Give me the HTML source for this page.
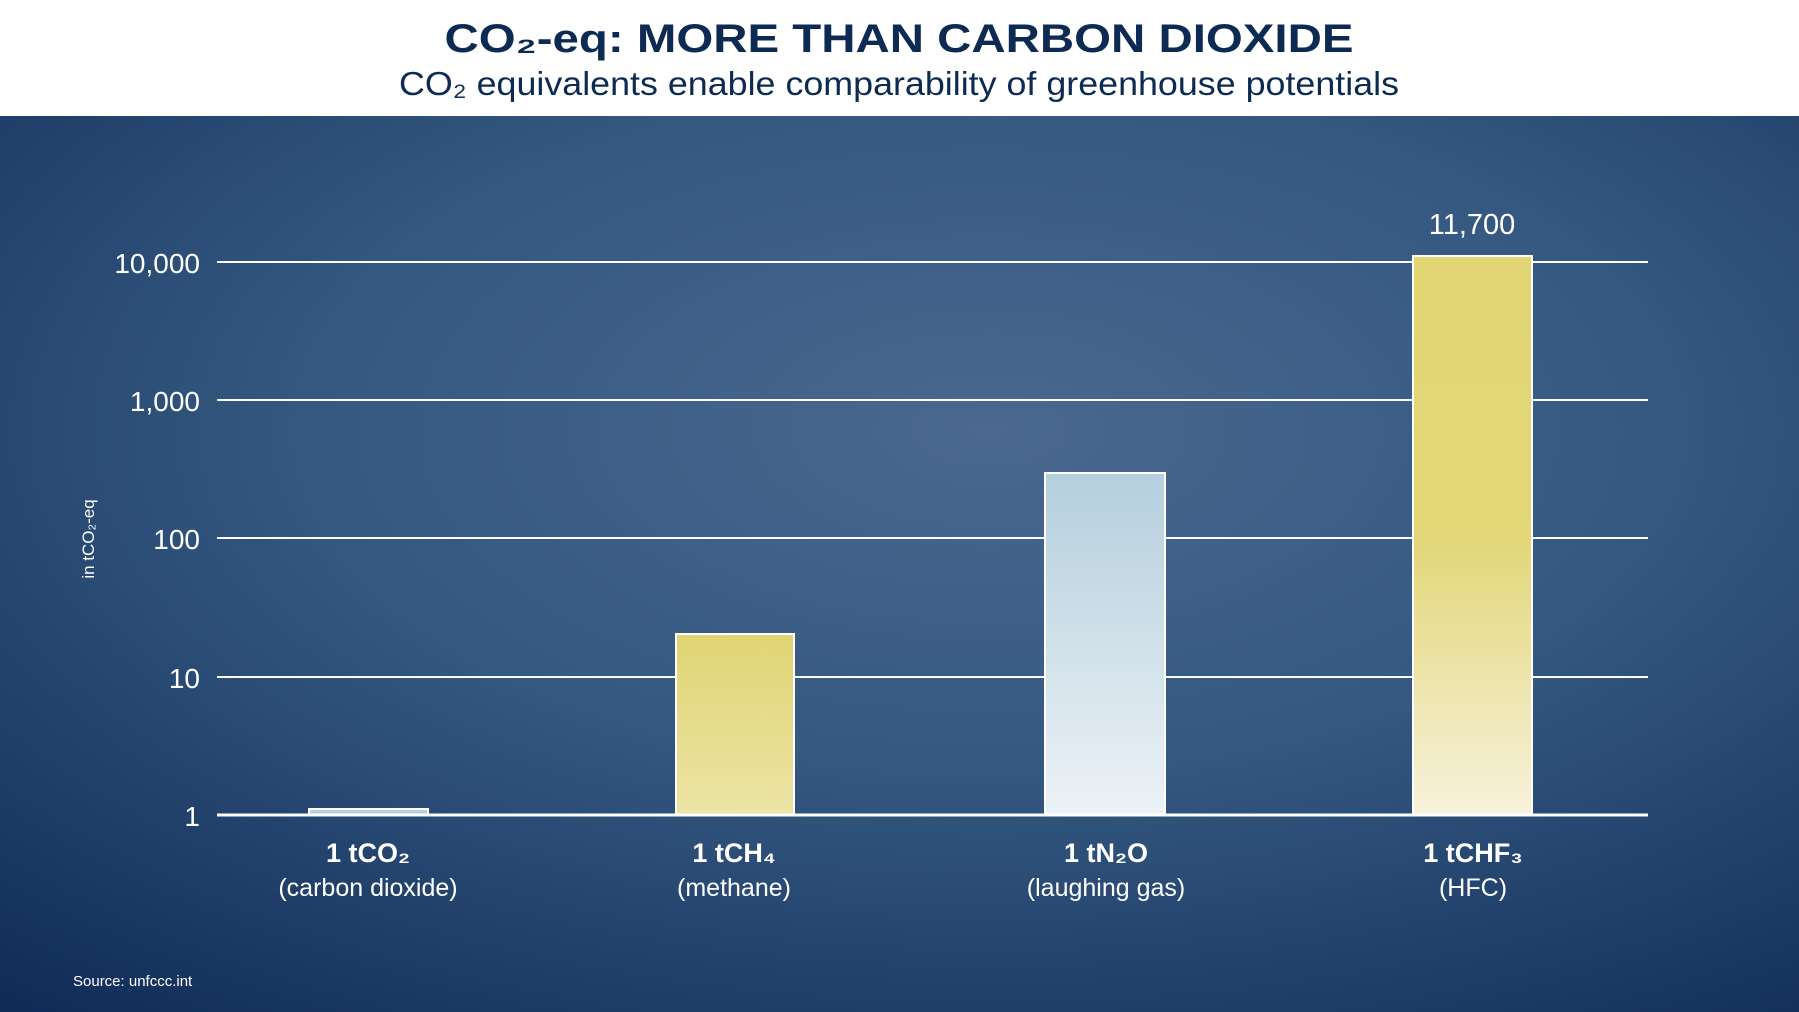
<!DOCTYPE html>
<html><head><meta charset="utf-8"><style>
html,body{margin:0;padding:0;width:1799px;height:1012px;overflow:hidden;background:#fff}
svg{display:block}
text{font-family:"Liberation Sans",sans-serif}
</style></head><body>
<svg width="1799" height="1012" viewBox="0 0 1799 1012" xmlns="http://www.w3.org/2000/svg">
<defs>
<radialGradient id="bg" cx="0.55" cy="0.35" r="0.85">
<stop offset="0" stop-color="#4a6890"/>
<stop offset="0.45" stop-color="#345880"/>
<stop offset="1" stop-color="#0f2b58"/>
</radialGradient>
<linearGradient id="yel" x1="0" y1="0" x2="0" y2="1">
<stop offset="0" stop-color="#e1d574"/>
<stop offset="0.5" stop-color="#e2d677"/>
<stop offset="1" stop-color="#f7f2dc"/>
</linearGradient>
<linearGradient id="yel2" x1="0" y1="0" x2="0" y2="1">
<stop offset="0" stop-color="#e0d473"/>
<stop offset="1" stop-color="#ece4a6"/>
</linearGradient>
<linearGradient id="blu" x1="0" y1="0" x2="0" y2="1">
<stop offset="0" stop-color="#b5cfdd"/>
<stop offset="1" stop-color="#ecf2f6"/>
</linearGradient>
</defs>
<rect x="0" y="0" width="1799" height="116" fill="#fff"/>
<rect x="0" y="116" width="1799" height="896" fill="url(#bg)"/>
<text x="899" y="52" text-anchor="middle" font-size="40" font-weight="bold" fill="#0d2a52" textLength="909" lengthAdjust="spacingAndGlyphs">CO₂-eq: MORE THAN CARBON DIOXIDE</text>
<text x="899" y="95" text-anchor="middle" font-size="33" fill="#0d2a52" textLength="1000" lengthAdjust="spacingAndGlyphs">CO₂ equivalents enable comparability of greenhouse potentials</text>
<g stroke="#fff" stroke-width="2">
<line x1="217" y1="262" x2="1648" y2="262"/>
<line x1="217" y1="400" x2="1648" y2="400"/>
<line x1="217" y1="538" x2="1648" y2="538"/>
<line x1="217" y1="677" x2="1648" y2="677"/>
</g>
<g stroke="#fff" stroke-width="2">
<rect x="309" y="809" width="119" height="6" fill="#b5cfdd"/>
<rect x="676" y="634" width="118" height="181" fill="url(#yel2)"/>
<rect x="1045" y="473" width="120" height="342" fill="url(#blu)"/>
<rect x="1413" y="256" width="119" height="559" fill="url(#yel)"/>
</g>
<line x1="217" y1="815" x2="1648" y2="815" stroke="#fff" stroke-width="3"/>
<g fill="#fff" font-size="28" text-anchor="end">
<text x="200" y="273">10,000</text>
<text x="200" y="411">1,000</text>
<text x="200" y="549">100</text>
<text x="200" y="688">10</text>
<text x="200" y="826">1</text>
</g>
<text x="1472" y="234" fill="#fff" font-size="29" text-anchor="middle">11,700</text>
<text transform="translate(94,539) rotate(-90)" fill="#fff" font-size="17" text-anchor="middle">in tCO₂-eq</text>
<g fill="#fff" text-anchor="middle">
<text x="368" y="862" font-size="27" font-weight="bold">1 tCO₂</text>
<text x="368" y="896" font-size="25">(carbon dioxide)</text>
<text x="734" y="862" font-size="27" font-weight="bold">1 tCH₄</text>
<text x="734" y="896" font-size="25">(methane)</text>
<text x="1106" y="862" font-size="27" font-weight="bold">1 tN₂O</text>
<text x="1106" y="896" font-size="25">(laughing gas)</text>
<text x="1473" y="862" font-size="27" font-weight="bold">1 tCHF₃</text>
<text x="1473" y="896" font-size="25">(HFC)</text>
</g>
<text x="73" y="986" fill="#fff" font-size="15">Source: unfccc.int</text>
</svg>
</body></html>
